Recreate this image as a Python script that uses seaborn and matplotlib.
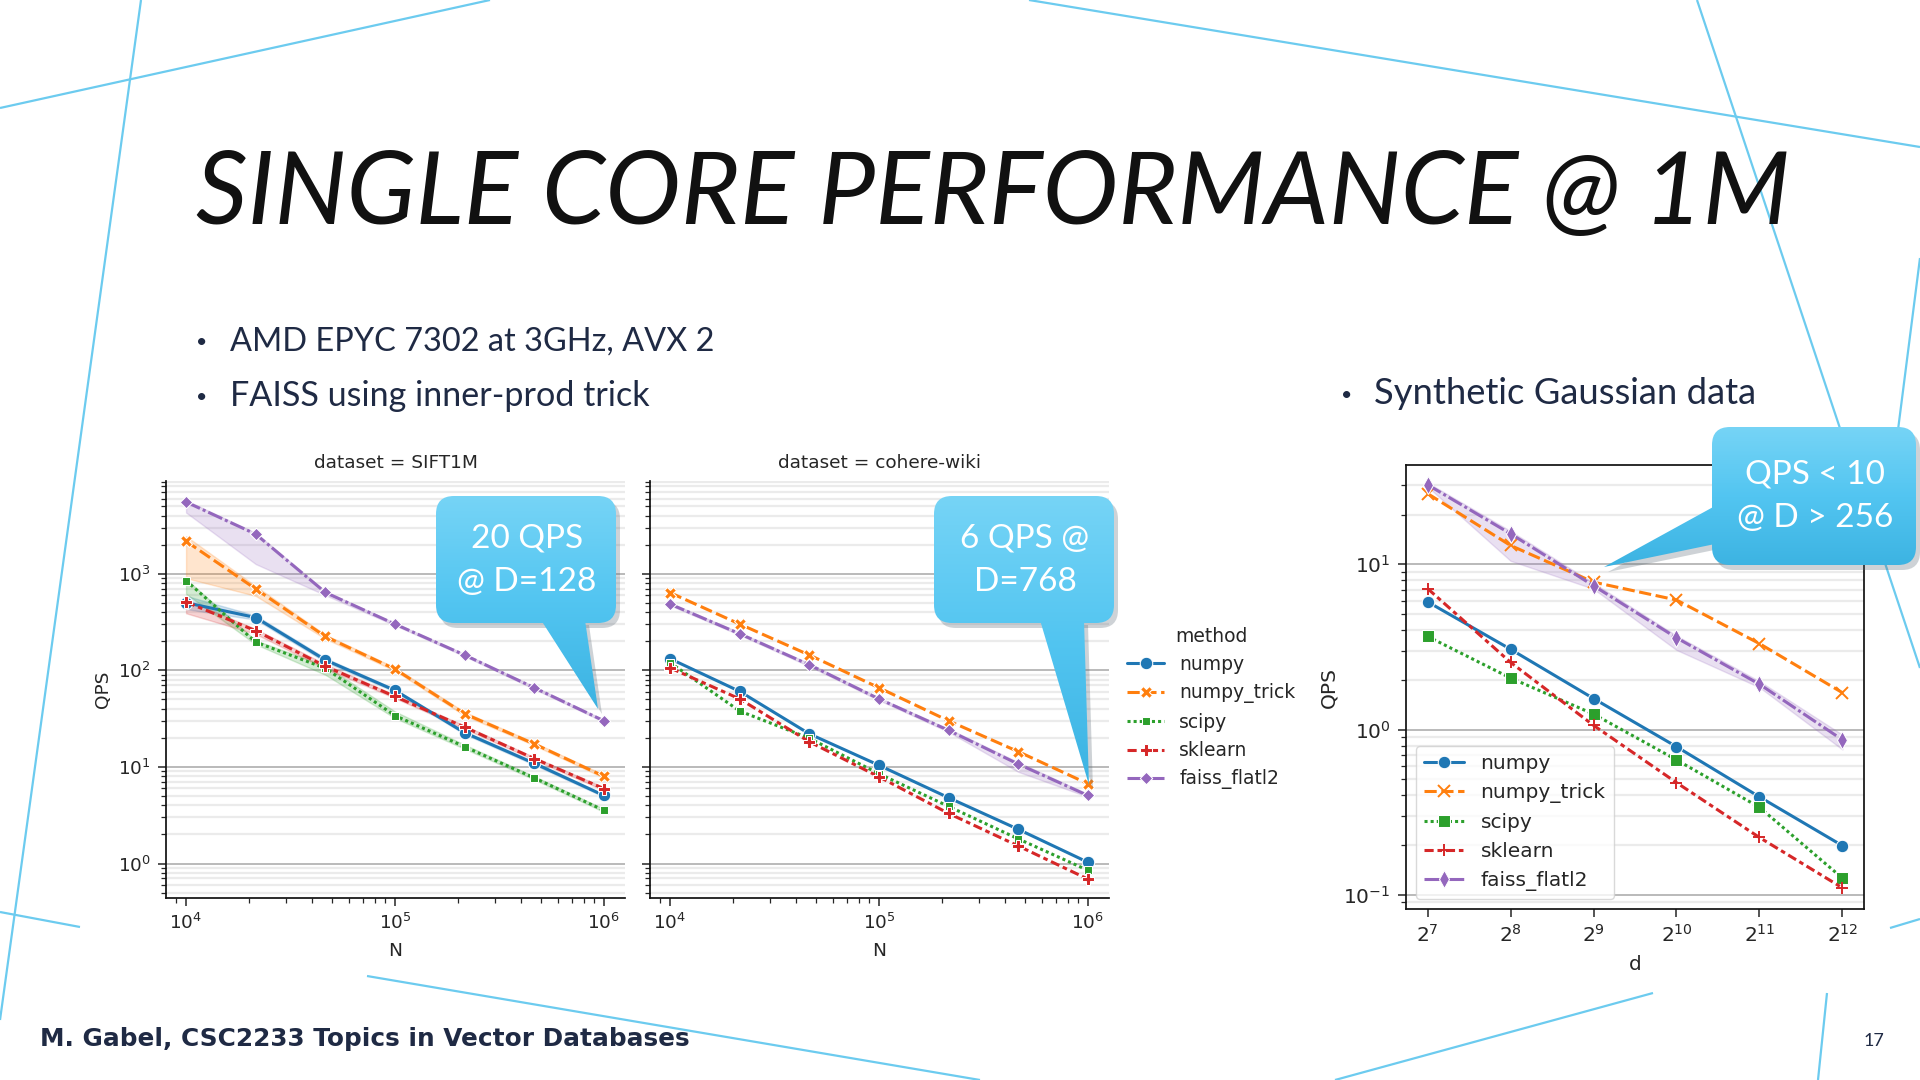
import pandas as pd
import matplotlib
matplotlib.use("Agg")
import matplotlib.pyplot as plt
import seaborn as sns
from matplotlib.patches import FancyBboxPatch, Polygon
from matplotlib.colors import LinearSegmentedColormap
import numpy as np

sns.set_theme(style="ticks", palette="tab10")
plt.rcParams["font.family"] = ["DejaVu Sans"]
plt.rcParams["axes.linewidth"] = 1.25
plt.rcParams["axes.edgecolor"] = "#111111"

SLIDE_FONT = ["Lato", "DejaVu Sans"]
NAVY = "#1f2a44"

methods = ["numpy", "numpy_trick", "scipy", "sklearn", "faiss_flatl2"]
n_values = [10000, 21544, 46416, 100000, 215443, 464159, 1000000]
d_values = [128, 256, 512, 1024, 2048, 4096]

# dataset = SIFT1M  (mid line, band low, band high)
sift_numpy = [501, 352, 128, 62, 22.6, 10.9, 5.06]
sift_numpy_lo = [430, 335, 122, 60, 21.8, 10.5, 4.9]
sift_numpy_hi = [590, 370, 134, 64, 23.4, 11.3, 5.2]
sift_trick = [2170, 696, 224, 103, 35.5, 17.3, 8.0]
sift_trick_lo = [900, 590, 212, 99, 34, 16.7, 7.7]
sift_trick_hi = [2450, 745, 234, 107, 37, 17.9, 8.3]
sift_scipy = [849, 196, 105, 34, 16.2, 7.7, 3.55]
sift_scipy_lo = [620, 186, 90, 32, 15.4, 7.4, 3.42]
sift_scipy_hi = [880, 204, 112, 37.5, 17, 8.0, 3.68]
sift_sklearn = [510, 257, 110, 53.6, 25.8, 12.2, 5.96]
sift_sklearn_lo = [390, 238, 104, 51.5, 24.8, 11.8, 5.75]
sift_sklearn_hi = [540, 268, 116, 55.5, 26.8, 12.6, 6.15]
sift_faiss = [5530, 2570, 640, 301, 144, 66, 30]
sift_faiss_lo = [4300, 1260, 600, 292, 140, 64, 29.2]
sift_faiss_hi = [5750, 2650, 660, 308, 148, 68, 30.8]

# dataset = cohere-wiki
cohere_numpy = [132, 60.5, 22, 10.4, 4.8, 2.26, 1.03]
cohere_trick = [637, 301, 144, 66, 30, 14.4, 6.7]
cohere_scipy = [120, 37.9, 19.8, 8.5, 3.9, 1.8, 0.85]
cohere_sklearn = [106, 50.6, 18.2, 7.9, 3.3, 1.52, 0.69]
cohere_faiss = [485, 239, 114, 50.6, 23.9, 10.7, 5.06]
cohere_faiss_lo = [470, 232, 110, 49, 23, 8.9, 4.9]
cohere_faiss_hi = [500, 246, 118, 52, 24.8, 11.2, 5.25]

# synthetic gaussian, N = 1M
synth_numpy = [5.93, 3.06, 1.54, 0.787, 0.391, 0.198]
synth_trick = [26.8, 13.0, 7.8, 6.08, 3.31, 1.67]
synth_scipy = [3.66, 2.05, 1.24, 0.655, 0.338, 0.126]
synth_sklearn = [7.13, 2.55, 1.06, 0.477, 0.222, 0.110]
synth_faiss = [30.3, 15.3, 7.42, 3.59, 1.88, 0.866]
synth_faiss_lo = [29.5, 10.5, 7.1, 3.03, 1.8, 0.757]
synth_faiss_hi = [31.2, 15.9, 7.7, 3.7, 1.96, 0.93]


def long_frame(xs, xname, series):
    rows = []
    for m, mid, lo, hi in series:
        for i, x in enumerate(xs):
            vals = [mid[i]] if lo is None else [lo[i], mid[i], hi[i]]
            for v in vals:
                rows.append({xname: x, "QPS": v, "method": m})
    return pd.DataFrame(rows)


sift = long_frame(n_values, "N", [
    ("numpy", sift_numpy, sift_numpy_lo, sift_numpy_hi),
    ("numpy_trick", sift_trick, sift_trick_lo, sift_trick_hi),
    ("scipy", sift_scipy, sift_scipy_lo, sift_scipy_hi),
    ("sklearn", sift_sklearn, sift_sklearn_lo, sift_sklearn_hi),
    ("faiss_flatl2", sift_faiss, sift_faiss_lo, sift_faiss_hi),
])
cohere = long_frame(n_values, "N", [
    ("numpy", cohere_numpy, None, None),
    ("numpy_trick", cohere_trick, None, None),
    ("scipy", cohere_scipy, None, None),
    ("sklearn", cohere_sklearn, None, None),
    ("faiss_flatl2", cohere_faiss, cohere_faiss_lo, cohere_faiss_hi),
])
synth = long_frame(d_values, "d", [
    ("numpy", synth_numpy, None, None),
    ("numpy_trick", synth_trick, None, None),
    ("scipy", synth_scipy, None, None),
    ("sklearn", synth_sklearn, None, None),
    ("faiss_flatl2", synth_faiss, synth_faiss_lo, synth_faiss_hi),
])

fig = plt.figure(figsize=(19.2, 10.8), dpi=100)
fig.patch.set_facecolor("white")

# background layer: decorative lines + slide text
bg = fig.add_axes([0, 0, 1, 1], zorder=0)
bg.set_xlim(0, 1920); bg.set_ylim(1080, 0); bg.set_axis_off()
deco = [((0, 108), (490, 0)), ((141, 0), (0, 1020)), ((0, 912), (80, 927)),
        ((1029, 0), (1920, 147)), ((1697, 0), (1920, 668)), ((1920, 258), (1882, 555)),
        ((1890, 928), (1920, 919)), ((1827, 993), (1818, 1080)),
        ((367, 976), (980, 1080)), ((1653, 993), (1335, 1080))]
for (x0, y0), (x1, y1) in deco:
    bg.plot([x0, x1], [y0, y1], color="#6ccbef", lw=1.6, solid_capstyle="butt")

bg.text(196, 224, "SINGLE CORE PERFORMANCE @ 1M", fontsize=73, style="italic",
        fontweight="normal", family=SLIDE_FONT, color="#111111", va="baseline")
for bx, tx, y, s, fs in [(196, 230, 351, "AMD EPYC 7302 at 3GHz, AVX 2", 23.4),
                         (196, 230, 406, "FAISS using inner-prod trick", 24.6),
                         (1341, 1374, 404, "Synthetic Gaussian data", 26.2)]:
    bg.text(bx, y - 3, "•", fontsize=14, family=SLIDE_FONT, color=NAVY, va="baseline")
    bg.text(tx, y, s, fontsize=fs, family=SLIDE_FONT, color=NAVY, va="baseline")
bg.text(40, 1046, "M. Gabel, CSC2233 Topics in Vector Databases", fontsize=17.8,
        fontweight="bold", family=["DejaVu Sans"], color=NAVY, va="baseline")
bg.text(1864, 1046, "17", fontsize=13, family=SLIDE_FONT, color=NAVY, va="baseline")

line_kw = dict(hue="method", style="method", hue_order=methods, style_order=methods,
               dashes=True, estimator="median", errorbar=("pi", 100), linewidth=2.2)


def style_grid(ax, size):
    ax.grid(False)
    ax.yaxis.grid(True, which="major", color="#b4b4b4", lw=1.3)
    ax.yaxis.grid(True, which="minor", color="#ebebeb", lw=1.6)
    ax.set_axisbelow(True)
    ax.tick_params(which="major", length=6, width=1.1, labelsize=size, pad=5)
    ax.tick_params(which="minor", length=3.5, width=0.9)


def line_art(lines):
    # synthetic plot uses thin x / + markers
    swap = {"X": "x", "P": "+"}
    for ln in lines:
        m = ln.get_marker()
        if m in swap:
            ln.set_marker(swap[m])
            ln.set_markeredgecolor(ln.get_color())
            ln.set_markeredgewidth(1.4)


# faceted N plots
ax1 = fig.add_axes([166 / 1920, 1 - 898 / 1080, 459 / 1920, 417 / 1080], zorder=2)
ax2 = fig.add_axes([650 / 1920, 1 - 898 / 1080, 459 / 1920, 417 / 1080], zorder=2, sharey=ax1)
for ax, df, title in [(ax1, sift, "SIFT1M"), (ax2, cohere, "cohere-wiki")]:
    ax.set_xscale("log"); ax.set_yscale("log")
    sns.lineplot(data=df, x="N", y="QPS", markers=True, markersize=9, ax=ax,
                 legend=(ax is ax2), **line_kw)
    ax.set_xlim(10 ** 3.904, 10 ** 6.101)
    ax.set_ylim(10 ** -0.357, 10 ** 3.96)
    ax.set_title(f"dataset = {title}", fontsize=13.3, pad=9)
    ax.set_xlabel("N", fontsize=13.3, labelpad=6)
    sns.despine(ax=ax)
    style_grid(ax, 13.3)
ax1.set_ylabel("QPS", fontsize=13.3)
ax2.set_ylabel("")
plt.setp(ax2.get_yticklabels(), visible=False)

handles, labels = ax2.get_legend_handles_labels()
keep = [(h, l) for h, l in zip(handles, labels) if l in methods]
ax2.get_legend().remove()
fig.legend([h for h, _ in keep], [l for _, l in keep], title="method", frameon=False,
           loc="center left", bbox_to_anchor=(1110 / 1920, 1 - 708 / 1080),
           fontsize=13.5, title_fontsize=13.5)

# synthetic d plot
ax3 = fig.add_axes([1406 / 1920, 1 - 909 / 1080, 458 / 1920, 444 / 1080], zorder=2)
ax3.set_xscale("log", base=2); ax3.set_yscale("log")
sns.lineplot(data=synth, x="d", y="QPS", markers=["o", "X", "s", "P", "d"],
             markersize=9, ax=ax3, **line_kw)
ax3.set_xlim(2 ** 6.74, 2 ** 12.26)
ax3.set_ylim(10 ** -1.0865, 10 ** 1.601)
ax3.set_xticks(d_values)
ax3.set_xlabel("d", fontsize=14.5, labelpad=6)
ax3.set_ylabel("QPS", fontsize=14.5)
style_grid(ax3, 14.5)
line_art(ax3.get_lines())
handles, labels = ax3.get_legend_handles_labels()
keep = [(h, l) for h, l in zip(handles, labels) if l in methods]
ax3.get_legend().remove()
leg = ax3.legend([h for h, _ in keep], [l for _, l in keep], loc="lower left",
                 fontsize=14.5, frameon=True, framealpha=0.8, edgecolor="#d0d0d0")
line_art(leg.get_lines())

# foreground layer: speech-bubble callouts
fg = fig.add_axes([0, 0, 1, 1], zorder=6)
fg.set_axis_off(); fg.patch.set_alpha(0)
grad_cmap = LinearSegmentedColormap.from_list("bubble", ["#76d4f6", "#52c5f1", "#3cb3e2"])
grad = np.linspace(0, 1, 256).reshape(-1, 1)


def callout(box, tail, lines, centers, fs):
    x0, y0, x1, y1 = box
    style = "round,pad=0,rounding_size=18"
    fg.add_patch(FancyBboxPatch((x0 + 4, y0 + 5), x1 - x0, y1 - y0, boxstyle=style,
                                fc="#5d6d78", ec="none", alpha=0.3, zorder=1))
    fg.add_patch(Polygon([(x + 4, y + 5) for x, y in tail], closed=True,
                         fc="#5d6d78", ec="none", alpha=0.3, zorder=1))
    shapes = [FancyBboxPatch((x0, y0), x1 - x0, y1 - y0, boxstyle=style, fc="none", ec="none"),
              Polygon(tail, closed=True, fc="none", ec="none")]
    xs = [x0, x1] + [p[0] for p in tail]
    ys = [y0, y1] + [p[1] for p in tail]
    for shp in shapes:
        fg.add_patch(shp)
        im = fg.imshow(grad, extent=(min(xs), max(xs), max(ys), min(ys)), cmap=grad_cmap,
                       aspect="auto", zorder=2, interpolation="bicubic")
        im.set_clip_path(shp)
    for s, (cx, cy) in zip(lines, centers):
        fg.text(cx, cy, s, ha="center", va="center", color="white", fontsize=fs,
                family=SLIDE_FONT, zorder=3)


callout((436, 496, 616, 623), [(541, 620), (585, 620), (598, 709)],
        ["20 QPS", "@ D=128"], [(527, 539), (527, 582)], 24)
callout((934, 496, 1114, 623), [(1040, 620), (1084, 620), (1089, 785)],
        ["6 QPS @", "D=768"], [(1025, 539), (1025, 582)], 24)
callout((1712, 427, 1916, 565), [(1715, 506), (1715, 544), (1604, 567)],
        ["QPS < 10", "@ D > 256"], [(1815, 475), (1815, 518)], 24)
fg.set_xlim(0, 1920); fg.set_ylim(1080, 0)

fig.savefig("out.png", dpi=100, facecolor="white")
